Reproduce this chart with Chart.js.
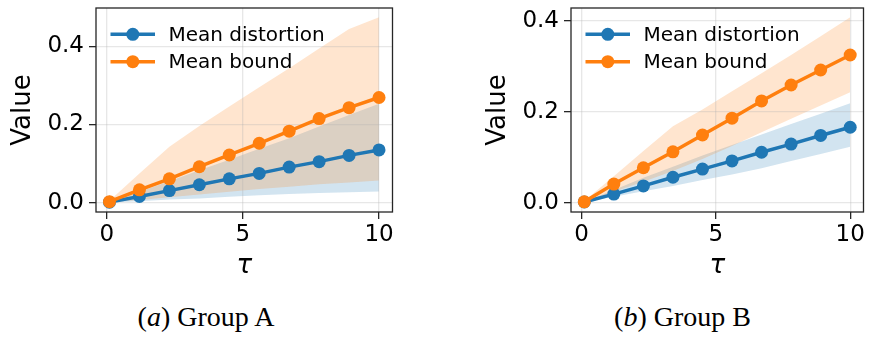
<!DOCTYPE html>
<html><head><meta charset="utf-8">
<script src="https://cdn.jsdelivr.net/npm/chart.js@4/dist/chart.umd.min.js"></script>
<style>
body{margin:0;background:#fff;width:870px;height:337px;position:relative;overflow:hidden;}
canvas{position:absolute;top:0;}
#cA{left:0}
#cB{left:470px}
.cap{position:absolute;font-family:"Liberation Serif","Times New Roman",serif;font-size:28px;line-height:1;white-space:nowrap;color:#000;transform:translateX(-50%);top:303px}
</style></head><body>
<canvas id="cA" width="400" height="290"></canvas>
<canvas id="cB" width="400" height="290"></canvas>
<div class="cap" style="left:206px">(<i>a</i>) Group A</div>
<div class="cap" style="left:682.5px">(<i>b</i>) Group B</div>
<script>
// ---- data ----
const tau = [0.1, 1.2, 2.3, 3.4, 4.5, 5.6, 6.7, 7.8, 8.9, 10.0];
const xTicks = [0, 5, 10];
const yTicks = [0, 0.2, 0.4];
const seriesLabels = ['Mean distortion', 'Mean bound'];

// Group A
const distA     = [0.0015, 0.016, 0.031, 0.046, 0.061, 0.075, 0.091, 0.105, 0.121, 0.135];
const distALow  = [0.0005, 0.004, 0.008, 0.011, 0.015, 0.019, 0.022, 0.025, 0.027, 0.029];
const distAHigh = [0.002, 0.028, 0.055, 0.083, 0.110, 0.138, 0.165, 0.195, 0.224, 0.253];
const boundA     = [0.0027, 0.033, 0.061, 0.092, 0.122, 0.152, 0.183, 0.215, 0.243, 0.269];
const boundALow  = [0.001, 0.007, 0.014, 0.021, 0.028, 0.035, 0.041, 0.047, 0.052, 0.057];
const boundAHigh = [0.005, 0.075, 0.143, 0.196, 0.246, 0.295, 0.344, 0.394, 0.444, 0.474];

// Group B
const distB     = [0.0017, 0.019, 0.037, 0.056, 0.074, 0.092, 0.111, 0.129, 0.148, 0.166];
const distBLow  = [0.001, 0.013, 0.025, 0.037, 0.050, 0.062, 0.076, 0.092, 0.107, 0.123];
const distBHigh = [0.002, 0.028, 0.055, 0.079, 0.104, 0.127, 0.150, 0.173, 0.196, 0.219];
const boundB     = [0.002, 0.041, 0.077, 0.112, 0.149, 0.186, 0.224, 0.259, 0.292, 0.325];
const boundBLow  = [0.001, 0.024, 0.046, 0.070, 0.096, 0.125, 0.155, 0.185, 0.214, 0.243];
const boundBHigh = [0.004, 0.058, 0.114, 0.168, 0.205, 0.245, 0.285, 0.325, 0.366, 0.408];

// ---- drawing ----
Chart.defaults.font.family = '"DejaVu Sans", sans-serif';
Chart.defaults.color = '#000';

const BLUE = '#1f77b4', ORANGE = '#ff7f0e';
const pts = arr => tau.map((t, i) => ({x: t, y: arr[i]}));

const framePlugin = {
  id: 'frame',
  afterDatasetsDraw(chart) {
    const {ctx, chartArea: a} = chart;
    ctx.save();
    ctx.strokeStyle = '#262626';
    ctx.lineWidth = 1.3;
    ctx.strokeRect(a.left, a.top, a.right - a.left, a.bottom - a.top);
    ctx.restore();
  }
};

const legendPlugin = {
  id: 'innerLegend',
  afterDraw(chart) {
    const {ctx, chartArea: a} = chart;
    const items = chart.data.datasets.filter(d => d.inLegend);
    items.forEach((d, i) => {
      const y = a.top + 26.3 + i * 27.4;
      ctx.save();
      ctx.strokeStyle = d.borderColor;
      ctx.lineWidth = d.borderWidth;
      ctx.beginPath(); ctx.moveTo(a.left + 14.5, y); ctx.lineTo(a.left + 59, y); ctx.stroke();
      ctx.fillStyle = d.pointBackgroundColor;
      ctx.beginPath(); ctx.arc(a.left + 36.8, y, d.pointRadius, 0, Math.PI * 2); ctx.fill();
      ctx.fillStyle = '#000';
      ctx.font = '20px "DejaVu Sans"';
      ctx.textBaseline = 'middle';
      ctx.textAlign = 'left';
      ctx.fillText(d.label, a.left + 72.5, y + 1);
      ctx.restore();
    });
  }
};

function makeChart(id, g, yMin, yMax, yWidth, padRight, yTitlePad) {
  return new Chart(document.getElementById(id), {
    type: 'line',
    data: {
      datasets: [
        {label: seriesLabels[0], data: pts(g.d), borderColor: BLUE, backgroundColor: BLUE, pointBackgroundColor: BLUE, pointBorderWidth: 0, pointRadius: 6.5, borderWidth: 3.5, fill: false, order: 1, inLegend: true, clip: false},
        {label: seriesLabels[1], data: pts(g.b), borderColor: ORANGE, backgroundColor: ORANGE, pointBackgroundColor: ORANGE, pointBorderWidth: 0, pointRadius: 6.5, borderWidth: 3.5, fill: false, order: 0, inLegend: true, clip: false},
        {label: seriesLabels[0] + ' low', data: pts(g.dLow), borderWidth: 0, pointRadius: 0, fill: false, order: 4},
        {label: seriesLabels[0] + ' high', data: pts(g.dHigh), borderWidth: 0, pointRadius: 0, fill: '-1', backgroundColor: 'rgba(31,119,180,0.2)', order: 4},
        {label: seriesLabels[1] + ' low', data: pts(g.bLow), borderWidth: 0, pointRadius: 0, fill: false, order: 3},
        {label: seriesLabels[1] + ' high', data: pts(g.bHigh), borderWidth: 0, pointRadius: 0, fill: '-1', backgroundColor: 'rgba(255,127,14,0.2)', order: 3}
      ]
    },
    options: {
      responsive: false, animation: false, devicePixelRatio: 1,
      layout: {padding: {left: 0, top: 8, right: padRight, bottom: 0}},
      plugins: {legend: {display: false}, tooltip: {enabled: false}, filler: {drawTime: 'beforeDraw'}},
      scales: {
        x: {
          type: 'linear', min: -0.395, max: 10.495,
          afterBuildTicks: s => { s.ticks = xTicks.map(v => ({value: v})); },
          afterFit: s => { s.height = 78; s.paddingLeft = 0; s.paddingRight = 0; },
          ticks: {callback: v => String(v), font: {size: 23}, color: '#000', padding: 2, maxRotation: 0, autoSkip: false},
          grid: {color: 'rgba(176,176,176,0.3)', lineWidth: 1.3, tickLength: 7, tickColor: '#262626', tickWidth: 1.3},
          border: {display: false},
          title: {display: true, text: 'τ', font: {size: 26, style: 'italic'}, color: '#000', padding: {top: 0, bottom: 8}}
        },
        y: {
          type: 'linear', min: yMin, max: yMax,
          afterBuildTicks: s => { s.ticks = yTicks.map(v => ({value: v})); },
          afterFit: s => { s.width = yWidth; s.paddingTop = 0; s.paddingBottom = 0; },
          ticks: {callback: v => v.toFixed(1), font: {size: 23}, color: '#000', padding: 5, autoSkip: false},
          grid: {color: 'rgba(176,176,176,0.3)', lineWidth: 1.3, tickLength: 7, tickColor: '#262626', tickWidth: 1.3},
          border: {display: false},
          title: {display: true, text: 'Value', font: {size: 26}, color: '#000', padding: {top: yTitlePad, bottom: 0}}
        }
      }
    },
    plugins: [framePlugin, legendPlugin]
  });
}

makeChart('cA', {d: distA, dLow: distALow, dHigh: distAHigh, b: boundA, bLow: boundALow, bHigh: boundAHigh},
  -0.0237, 0.4977, 96, 7.5, 7.4);
makeChart('cB', {d: distB, dLow: distBLow, dHigh: distBHigh, b: boundB, bLow: boundBLow, bHigh: boundBHigh},
  -0.0204, 0.4284, 101, 2, 12.4);
</script>
</body></html>
